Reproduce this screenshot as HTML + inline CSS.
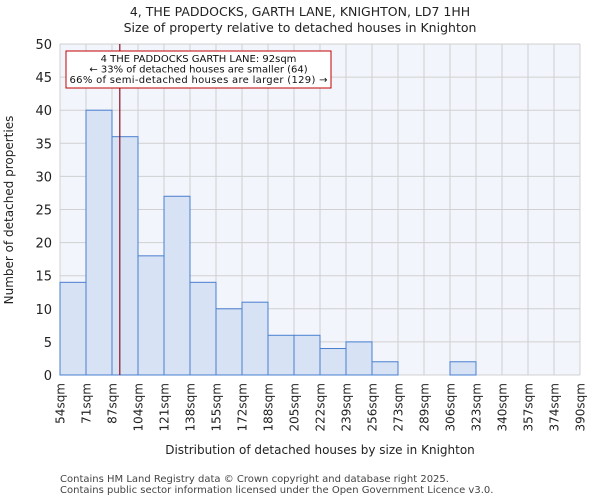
<!DOCTYPE html>
<html><head><meta charset="utf-8"><style>
body{margin:0;background:#fff;font-family:"DejaVu Sans","Liberation Sans",sans-serif;}
</style></head><body>
<svg width="600" height="500" xmlns="http://www.w3.org/2000/svg" font-family="DejaVu Sans, Liberation Sans, sans-serif">
<text x="300" y="16" text-anchor="middle" font-size="12.5" fill="#222">4, THE PADDOCKS, GARTH LANE, KNIGHTON, LD7 1HH</text>
<text x="300" y="32" text-anchor="middle" font-size="12.5" fill="#222">Size of property relative to detached houses in Knighton</text>
<g id="plot"></g>
<text transform="translate(13,210) rotate(-90)" text-anchor="middle" font-size="12" fill="#222">Number of detached properties</text>
<text x="320" y="454" text-anchor="middle" font-size="12" fill="#222">Distribution of detached houses by size in Knighton</text>
<text x="60" y="482" font-size="10" fill="#444">Contains HM Land Registry data © Crown copyright and database right 2025.</text>
<text x="60" y="493" font-size="10" fill="#444">Contains public sector information licensed under the Open Government Licence v3.0.</text>
</svg>
<script>
const binLabels=["54sqm","71sqm","87sqm","104sqm","121sqm","138sqm","155sqm","172sqm","188sqm","205sqm","222sqm","239sqm","256sqm","273sqm","289sqm","306sqm","323sqm","340sqm","357sqm","374sqm","390sqm"];
const counts=[14,40,36,18,27,14,10,11,6,6,4,5,2,0,0,2,0,0,0,0];
const yTicks=[0,5,10,15,20,25,30,35,40,45,50];
const propertyBinPos=2.3;
const NS="http://www.w3.org/2000/svg";
const L=60,R=580,T=44,B=375,yMax=50;
const n=counts.length,bw=(R-L)/n;
const xs=i=>L+i*bw;
const ys=v=>B-(v/yMax)*(B-T);
const g=document.getElementById('plot');
function mk(t,a){const e=document.createElementNS(NS,t);for(const k in a)e.setAttribute(k,a[k]);g.appendChild(e);return e;}
let bg=mk('rect',{x:L,y:T,width:R-L,height:B-T,fill:'#f2f5fc'});


yTicks.forEach(v=>{
 const l=mk('line',{x1:L,x2:R,y1:ys(v),y2:ys(v),stroke:'#d0d0d0','stroke-width':1});
 
 
 const t=mk('text',{x:L-8,y:ys(v)+5,'text-anchor':'end','font-size':13,fill:'#222'});
 t.textContent=v;
 
 
});
binLabels.forEach((lab,i)=>{
 const x=xs(i);
 const l=mk('line',{x1:x,x2:x,y1:T,y2:B,stroke:'#d0d0d0','stroke-width':1});
 
 
 const t=mk('text',{transform:`translate(${x+4.5},${B+8}) rotate(-90)`,'text-anchor':'end','font-size':12,fill:'#222'});
 t.textContent=lab;
 
 
});
counts.forEach((c,i)=>{
 if(c<=0)return;
 const r=mk('rect',{x:xs(i),y:ys(c),width:bw,height:B-ys(c),fill:'#d7e2f4',stroke:'#4a7fd0','stroke-width':1});
 
 
});
const px=xs(propertyBinPos);
const pl=mk('line',{x1:px,x2:px,y1:T,y2:B,stroke:'#8a1020','stroke-width':1.2});


const box=mk('rect',{x:66,y:51,width:265,height:37,fill:'#fff',stroke:'#c00000','stroke-width':1});


["4 THE PADDOCKS GARTH LANE: 92sqm","← 33% of detached houses are smaller (64)","66% of semi-detached houses are larger (129) →"].forEach((s,i)=>{
 const t=mk('text',{x:198.5,y:62+i*10.5,'text-anchor':'middle','font-size':10,fill:'#111',textLength:i==2?258:null});
 if(i!=2)t.removeAttribute('textLength');
 t.textContent=s;
 
 
});
</script>
</body></html>
